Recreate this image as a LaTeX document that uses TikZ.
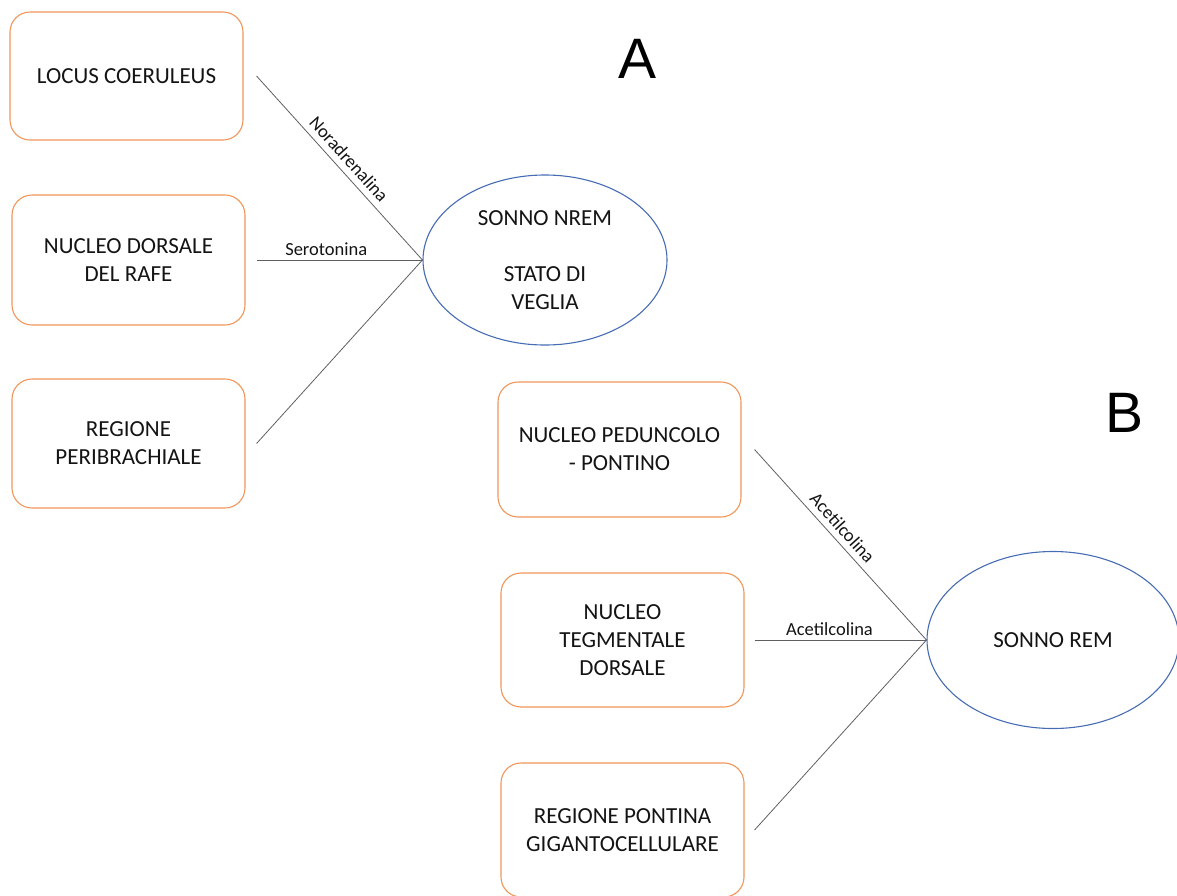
\documentclass[tikz,border=0pt]{standalone}
\usepackage{fontspec}
\setmainfont{Carlito}
\newfontfamily\letterfont{Liberation Sans}
\usetikzlibrary{shapes.geometric}
\definecolor{boxorange}{RGB}{240,150,90}
\definecolor{ovalblue}{RGB}{70,108,180}
\definecolor{linkgray}{RGB}{95,95,95}
\definecolor{inkblack}{RGB}{20,20,20}
\begin{document}
\begin{tikzpicture}[x=1pt,y=-1pt,
  region/.style={draw=boxorange, line width=1.1pt, rounded corners=20pt,
    fill=white, inner sep=0pt, align=center, text=inkblack,
    font=\fontsize{23}{28}\selectfont},
  stateoval/.style={ellipse, draw=ovalblue, line width=1.1pt, fill=white,
    inner sep=0pt, align=center, text=inkblack,
    font=\fontsize{23}{28}\selectfont},
  link/.style={draw=linkgray, line width=0.8pt},
  tag/.style={font=\fontsize{18.5}{22}\selectfont, inner sep=4pt, text=inkblack},
  bigletter/.style={font=\letterfont\fontsize{57}{60}\selectfont, anchor=base,
    inner sep=0pt, text=black}]
\useasboundingbox (0,0) rectangle (1177,895);
\clip (0,0) rectangle (1177,895);

% --- group A: wake / NREM sleep ---
\node[region, minimum width=233pt, minimum height=128pt] (lc) at (126.5,76) {LOCUS COERULEUS};
\node[region, minimum width=233pt, minimum height=130pt] (ndr) at (128.5,260) {NUCLEO DORSALE\\DEL RAFE};
\node[region, minimum width=233pt, minimum height=129pt] (rpb) at (128.5,443.5) {REGIONE\\PERIBRACHIALE};
\node[stateoval, minimum width=244pt, minimum height=170pt] (ea) at (545,260) {SONNO NREM\\[28pt]STATO DI\\VEGLIA};
\node[bigletter] (la) at (637,78) {A};

\draw[link] ([xshift=13pt]lc.east) -- node[tag, sloped, above, pos=0.5, inner sep=6pt] {Noradrenalina} (ea.west);
\draw[link] ([xshift=11pt]ndr.east) -- node[tag, above, pos=0.42] {Serotonina} (ea.west);
\draw[link] ([xshift=11pt]rpb.east) -- (ea.west);

% --- group B: REM sleep ---
\node[region, minimum width=243pt, minimum height=135pt] (npp) at (619.5,449.5) {NUCLEO PEDUNCOLO\\- PONTINO};
\node[region, minimum width=243pt, minimum height=134pt] (ntd) at (622.5,640) {NUCLEO\\TEGMENTALE\\DORSALE};
\node[region, minimum width=243pt, minimum height=134pt] (rpg) at (622.5,830) {REGIONE PONTINA\\GIGANTOCELLULARE};
\node[stateoval, minimum width=252pt, minimum height=177pt] (eb) at (1053,640) {SONNO REM};
\node[bigletter] (lb) at (1124,432) {B};

\draw[link] ([xshift=13pt]npp.east) -- node[tag, sloped, above, pos=0.456, inner sep=6pt] {Acetilcolina} (eb.west);
\draw[link] ([xshift=10pt]ntd.east) -- node[tag, above, pos=0.436] {Acetilcolina} (eb.west);
\draw[link] ([xshift=10pt]rpg.east) -- (eb.west);
\end{tikzpicture}
\end{document}
